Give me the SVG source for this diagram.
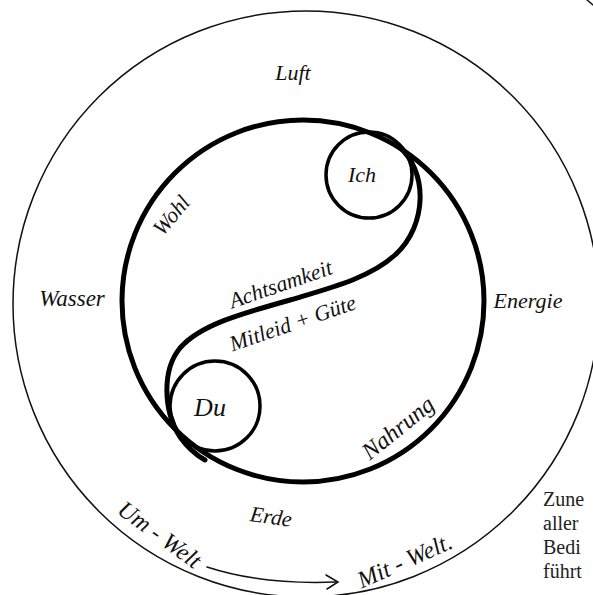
<svg xmlns="http://www.w3.org/2000/svg" width="593" height="595" viewBox="0 0 593 595">
<style>
.hw{font-family:"Liberation Serif","DejaVu Serif",serif;font-style:italic;fill:#111;font-size:22px}
.pr{font-family:"Liberation Serif","Times New Roman",serif;fill:#222;font-size:20px}
.thin{fill:none;stroke:#111;stroke-width:1.5;stroke-linecap:round}
.thick{fill:none;stroke:#000;stroke-width:5;stroke-linecap:round;stroke-linejoin:round}
.mid{fill:none;stroke:#000;stroke-width:3.5;stroke-linecap:round}
</style>
<rect width="593" height="595" fill="#fff"/>
<g id="outer-world">
<circle cx="306" cy="304" r="293" class="thin"/>
</g>
<g id="inner-circle">
<circle cx="303" cy="301" r="181" class="thick"/>
</g>
<g id="connectors">
<path class="thick" d="M398 146 C428 170 428 225 395 255 C370 278 330 288 290 300 C240 314 200 325 180 348 C162 370 163 410 180 437 C188 448 196 455 205 460"/>
<path class="thin" d="M207 567 Q262 585 336 582"/>
<path class="thin" d="M326 575 L338 582 L327 589"/>
<path class="thin" d="M587 0 L593 5"/>
</g>
<g id="ich">
<circle cx="369" cy="175" r="43" class="mid"/>
<text class="hw" x="362" y="182" text-anchor="middle">Ich</text>
</g>
<g id="du">
<circle cx="215" cy="406" r="45" class="mid"/>
<text class="hw" x="210" y="416" text-anchor="middle" style="font-size:26px">Du</text>
</g>
<g id="labels">
<text class="hw" x="293" y="80" text-anchor="middle">Luft</text>
<text class="hw" x="0" y="0" text-anchor="middle" transform="translate(177,220) rotate(-50)">Wohl</text>
<text class="hw" x="0" y="0" text-anchor="middle" transform="translate(283,291) rotate(-19)">Achtsamkeit</text>
<text class="hw" x="0" y="0" text-anchor="middle" transform="translate(295,330) rotate(-19)">Mitleid + Güte</text>
<text class="hw" x="72" y="306" text-anchor="middle" style="font-size:23px">Wasser</text>
<text class="hw" x="528" y="308" text-anchor="middle">Energie</text>
<text class="hw" x="0" y="0" text-anchor="middle" transform="translate(403,434) rotate(-39)" style="font-size:24px">Nahrung</text>
<text class="hw" x="0" y="0" text-anchor="middle" transform="translate(270,524) rotate(8)">Erde</text>
<text class="hw" x="0" y="0" text-anchor="middle" transform="translate(155,541) rotate(36)" style="font-size:24px">Um - Welt</text>
<text class="hw" x="0" y="0" text-anchor="middle" transform="translate(408,568) rotate(-24)" style="font-size:24px">Mit - Welt.</text>
</g>
<g id="printed">
<text class="pr" x="543" y="506">Zune</text>
<text class="pr" x="543" y="530">aller</text>
<text class="pr" x="543" y="554">Bedi</text>
<text class="pr" x="543" y="578">führt</text>
</g>
</svg>
